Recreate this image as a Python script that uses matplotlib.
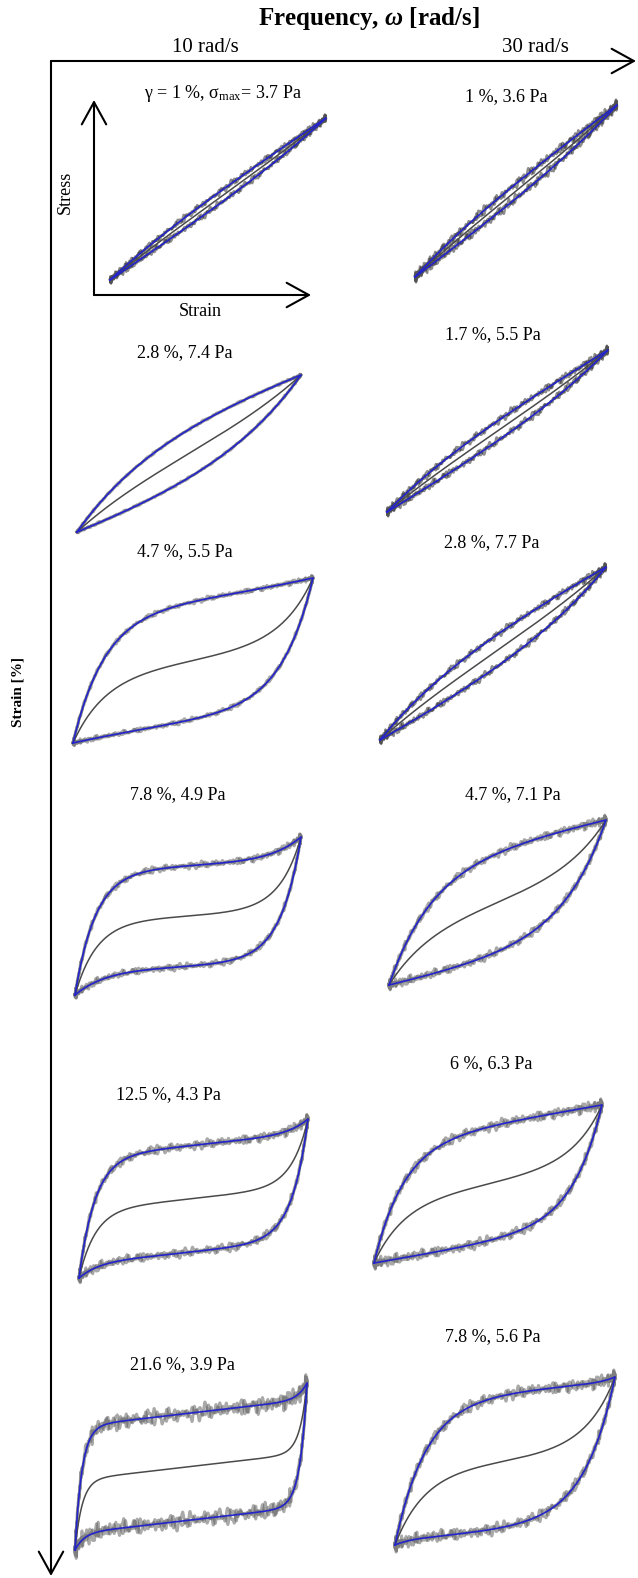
import numpy as np
import matplotlib
matplotlib.use("Agg")
import matplotlib.pyplot as plt
from matplotlib.patches import FancyArrowPatch


W_PX, H_PX = 638, 1578

FREQ_LABELS = ["10 rad/s", "30 rad/s"]

# strain amplitude [%] and peak stress [Pa], top to bottom
STRAIN_10 = [1, 2.8, 4.7, 7.8, 12.5, 21.6]
STRESS_10 = [3.7, 7.4, 5.5, 4.9, 4.3, 3.9]
STRAIN_30 = [1, 1.7, 2.8, 4.7, 6, 7.8]
STRESS_30 = [3.6, 5.5, 7.7, 7.1, 6.3, 5.6]

# loading-branch fit: linear share, yield share, yield length, hardening exponent
# (hardening share is whatever remains of 1)
SLOPE_10 = [0.88, 0.50, 0.20, 0.08, 0.15, 0.16]
YIELD_10 = [0.12, 0.50, 0.77, 0.78, 0.76, 0.74]
YIELD_LEN_10 = [0.35, 0.35, 0.13, 0.09, 0.07, 0.03]
HARDEN_EXP_10 = [2, 2, 4, 8, 12, 25]

SLOPE_30 = [0.86, 0.80, 0.70, 0.30, 0.25, 0.11]
YIELD_30 = [0.14, 0.20, 0.30, 0.70, 0.75, 0.86]
YIELD_LEN_30 = [0.35, 0.35, 0.35, 0.20, 0.13, 0.14]
HARDEN_EXP_30 = [2, 2, 2, 2, 2, 15]

# high harmonics left in the measured signal (instrument noise), two cycles
RIPPLE_ORDERS = [41, 59, 73, 97, 113, 139, 167, 197, 229]
RIPPLE_WEIGHTS = [0.9, 1.0, 0.9, 0.85, 0.8, 0.75, 0.7, 0.6, 0.5]
RIPPLE_PHASES_A = [0.4, 2.1, 4.0, 1.3, 5.2, 3.3, 0.9, 2.7, 4.6]
RIPPLE_PHASES_B = [3.1, 0.6, 1.9, 4.4, 2.5, 5.8, 3.9, 1.1, 0.2]
NOISE_10 = [0.030, 0.010, 0.020, 0.030, 0.040, 0.070]
NOISE_30 = [0.040, 0.035, 0.030, 0.035, 0.045, 0.050]

# panel boxes in pixels (left, top, right, bottom) and label centres
BOXES_10 = [(110, 118, 326, 280), (77, 375, 301, 532), (73, 578, 313, 743),
            (75, 837, 301, 995), (79, 1119, 308, 1278), (75, 1383, 307, 1550)]
BOXES_30 = [(415, 105, 617, 277), (387, 350, 608, 512), (380, 567, 606, 740),
            (389, 820, 606, 985), (374, 1105, 602, 1263), (395, 1377, 615, 1545)]
LABEL_POS_10 = [(223, 93), (185, 353), (185, 552), (178, 795), (168, 1095), (182, 1365)]
LABEL_POS_30 = [(506, 97), (493, 335), (492, 543), (513, 795), (491, 1064), (493, 1337)]

FIT_COLOR = "#2424cc"

plt.rcParams["font.family"] = ["Liberation Serif", "DejaVu Serif"]
plt.rcParams["mathtext.fontset"] = "custom"
plt.rcParams["mathtext.rm"] = "Liberation Serif"
plt.rcParams["mathtext.it"] = "Liberation Serif:italic:bold"
plt.rcParams["mathtext.bf"] = "Liberation Serif:bold"


def fx(px):
    return px / W_PX


def fy(py):
    return 1 - py / H_PX


def loading_branch(x, slope, yld, yld_len, hard_exp):
    # normalised stress on the increasing-strain branch, -1 at x=-1, +1 at x=1
    u = (x + 1) / 2
    sat = (1 - np.exp(-u / yld_len)) / (1 - np.exp(-1 / yld_len))
    hard = 1 - slope - yld
    return -1 + 2 * (slope * u + yld * sat + hard * u ** hard_exp)


def ripple(t, phases):
    total = sum(w * np.sin(k * t + p) for k, p, w in
                zip(RIPPLE_ORDERS, phases, RIPPLE_WEIGHTS))
    return total / sum(RIPPLE_WEIGHTS) * 2.5


def draw_loop(fig, box, gamma0, sigma_max, params, noise, data_color, data_lw):
    t = np.linspace(0, 2 * np.pi, 3000)
    x = -np.cos(t)
    up = loading_branch(x, *params)
    down = -loading_branch(-x, *params)
    fit = sigma_max * np.where(t <= np.pi, up, down)
    strain = gamma0 * x

    xs = np.linspace(-1, 1, 400)
    elastic = sigma_max * (loading_branch(xs, *params) - loading_branch(-xs, *params)) / 2

    x0, y0, x1, y1 = box
    ax = fig.add_axes([fx(x0), fy(y1), fx(x1 - x0), (y1 - y0) / H_PX])
    ax.set_axis_off()
    ax.set_xlim(-gamma0, gamma0)
    ax.set_ylim(-sigma_max, sigma_max)

    for phases in (RIPPLE_PHASES_A, RIPPLE_PHASES_B):
        measured = fit + noise * sigma_max * ripple(t, phases)
        ax.plot(strain, measured, color=data_color, lw=data_lw, alpha=0.5,
                clip_on=False)
    ax.plot(gamma0 * xs, elastic, color="#4a4a4a", lw=1.1, clip_on=False)
    ax.plot(strain, fit, color=FIT_COLOR, lw=1.2, clip_on=False)
    return ax


def arrow(fig, start, end, lw=1.5, scale=40):
    patch = FancyArrowPatch(
        (fx(start[0]), fy(start[1])), (fx(end[0]), fy(end[1])),
        transform=fig.transFigure,
        arrowstyle="->,head_length=0.4,head_width=0.22",
        mutation_scale=scale, lw=lw, color="black",
        shrinkA=0, shrinkB=0,
    )
    fig.add_artist(patch)


fig = plt.figure(figsize=(W_PX / 100, H_PX / 100), dpi=100)

# frequency axis across the top, strain axis down the left side
arrow(fig, (51, 61), (636, 61))
arrow(fig, (51, 61), (51, 1576))
fig.text(fx(369), fy(18), r"Frequency, $\omega$ [rad/s]", ha="center", va="center",
         fontsize=18, weight="bold")
fig.text(fx(205), fy(47), FREQ_LABELS[0], ha="center", va="center", fontsize=15)
fig.text(fx(535), fy(47), FREQ_LABELS[1], ha="center", va="center", fontsize=15)
fig.text(fx(18), fy(692), "Strain [%]", ha="center", va="center", rotation=90,
         fontsize=11, weight="bold")

# stress/strain key in the first panel
arrow(fig, (94, 295), (94, 100))
arrow(fig, (94, 295), (311, 295))
fig.text(fx(65), fy(192), "Stress", ha="center", va="center", rotation=90, fontsize=13)
fig.text(fx(200), fy(312), "Strain", ha="center", va="center", fontsize=13)

columns = [
    (STRAIN_10, STRESS_10, SLOPE_10, YIELD_10, YIELD_LEN_10, HARDEN_EXP_10,
     NOISE_10, BOXES_10, LABEL_POS_10),
    (STRAIN_30, STRESS_30, SLOPE_30, YIELD_30, YIELD_LEN_30, HARDEN_EXP_30,
     NOISE_30, BOXES_30, LABEL_POS_30),
]
for col, (strains, stresses, slope, yld, yld_len, hexp, noise, boxes, label_pos) \
        in enumerate(columns):
    for row in range(len(strains)):
        params = (slope[row], yld[row], yld_len[row], hexp[row])
        dark = (col == 1 and row < 3) or (col == 0 and row == 0)
        draw_loop(fig, boxes[row], strains[row], stresses[row], params, noise[row],
                  "#1a1a1a" if dark else "#555555", 1.6 if dark else 2.0)
        if col == 0 and row == 0:
            label = (f"γ = {strains[row]:g} %, σ$_{{\\mathrm{{max}}}}$= "
                     f"{stresses[row]:g} Pa")
        else:
            label = f"{strains[row]:g} %, {stresses[row]:g} Pa"
        lx, ly = label_pos[row]
        fig.text(fx(lx), fy(ly), label, ha="center", va="center", fontsize=13)

fig.savefig("out.png", dpi=100)
